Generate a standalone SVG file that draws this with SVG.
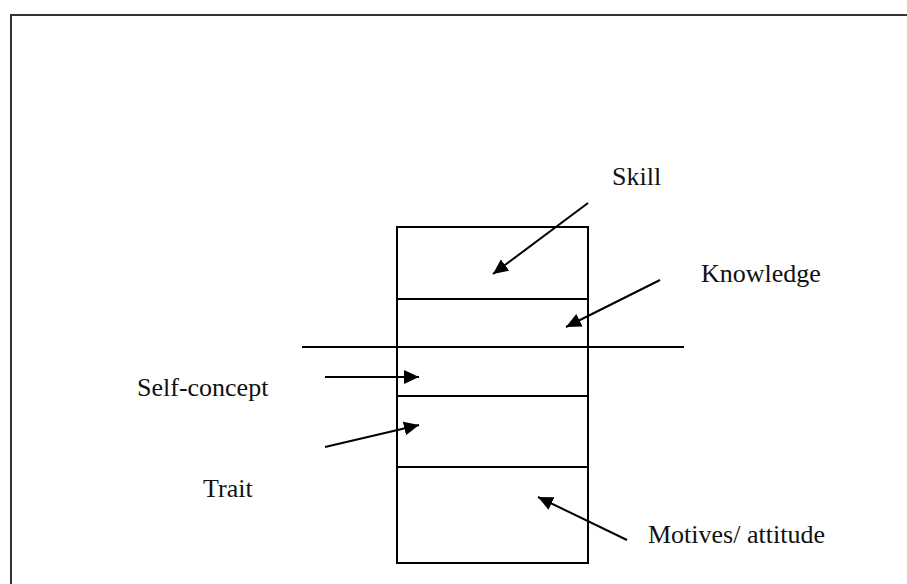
<svg xmlns="http://www.w3.org/2000/svg" width="907" height="584" viewBox="0 0 907 584">
  <defs>
    <marker id="tri" viewBox="0 0 15 14" refX="15" refY="7" markerWidth="15" markerHeight="14" markerUnits="userSpaceOnUse" orient="auto">
      <path d="M0,0 L15,7 L0,14 Z" fill="#000"/>
    </marker>
    <style>
      .frame { fill: none; stroke: #333; stroke-width: 2; }
      .cell { fill: #fff; stroke: #000; stroke-width: 2; }
      .line { stroke: #000; stroke-width: 2; fill: none; }
      .arrow { stroke: #000; stroke-width: 2; fill: none; marker-end: url(#tri); }
      .label { font-family: "Liberation Serif", "Times New Roman", serif; font-size: 26px; fill: #111; }
    </style>
  </defs>

  <rect width="907" height="584" fill="#fff"/>
  <!-- page frame -->
  <path class="frame" d="M11,584 L11,15 L907,15"/>

  <!-- stacked competency cells -->
  <g id="skill-cell"><rect class="cell" x="397" y="227" width="191" height="72"/></g>
  <g id="knowledge-cell"><rect class="cell" x="397" y="299" width="191" height="48"/></g>
  <g id="self-concept-cell"><rect class="cell" x="397" y="347" width="191" height="49"/></g>
  <g id="trait-cell"><rect class="cell" x="397" y="396" width="191" height="71"/></g>
  <g id="motives-cell"><rect class="cell" x="397" y="467" width="191" height="96"/></g>

  <!-- waterline -->
  <line class="line" x1="302" y1="347" x2="684" y2="347"/>

  <!-- labels -->
  <g id="skill-label"><text class="label" x="612" y="185">Skill</text></g>
  <g id="knowledge-label"><text class="label" x="701" y="282">Knowledge</text></g>
  <g id="self-concept-label"><text class="label" x="137" y="396">Self-concept</text></g>
  <g id="trait-label"><text class="label" x="203" y="497">Trait</text></g>
  <g id="motives-label"><text class="label" x="648" y="543">Motives/ attitude</text></g>

  <!-- connectors -->
  <g id="connectors">
    <line class="arrow" x1="588" y1="203" x2="493" y2="274"/>
    <line class="arrow" x1="660" y1="280" x2="566" y2="327"/>
    <line class="arrow" x1="325" y1="377" x2="419" y2="377"/>
    <line class="arrow" x1="325" y1="447" x2="419" y2="425"/>
    <line class="arrow" x1="627" y1="540" x2="538" y2="497"/>
  </g>
</svg>
